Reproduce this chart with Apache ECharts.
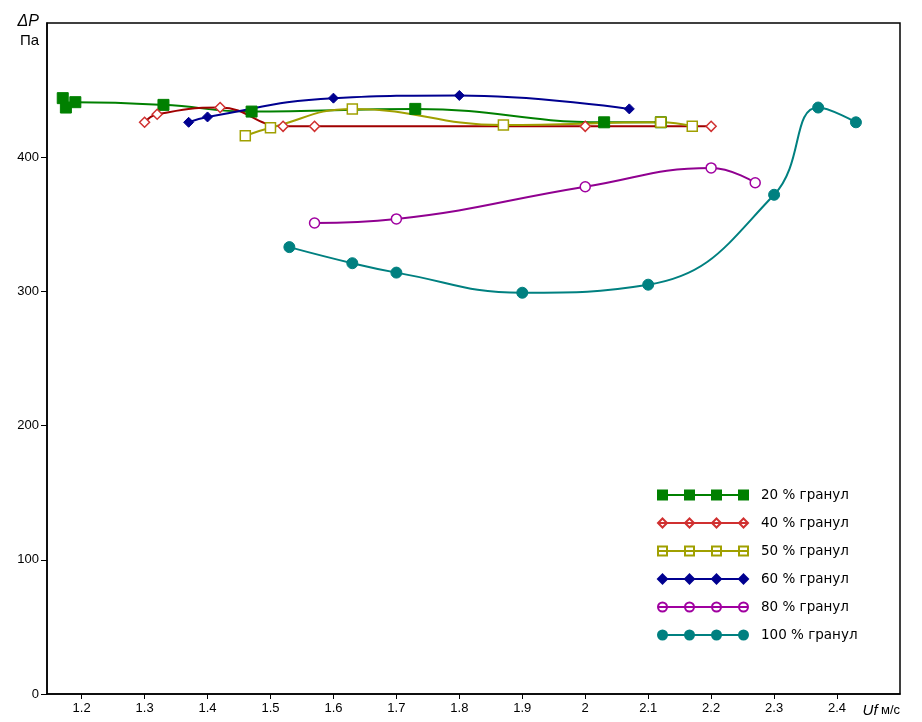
<!DOCTYPE html>
<html lang="ru">
<head>
    <meta charset="UTF-8">
    <title>ΔP от Uf</title>
    <script src="https://cdn.jsdelivr.net/npm/echarts@6/dist/echarts.min.js"></script>
    <style>
        body { padding: 0; margin: 0; background: #fff; }
        #chart { width: 922px; height: 722px; }
    </style>
</head>
<body>
    <div id="chart"></div>

    <script>
        // данные: Uf (м/с) и ΔP (Па)
        const names = ['20 % гранул', '40 % гранул', '50 % гранул', '60 % гранул', '80 % гранул', '100 % гранул'];

        const uf20 = [1.17, 1.175, 1.19, 1.33, 1.47, 1.73, 2.03, 2.12];
        const dp20 = [444, 437, 441, 439, 434, 436, 426, 426];

        const uf40 = [1.30, 1.32, 1.42, 1.52, 1.57, 2.00, 2.20];
        const dp40 = [426, 432, 437, 423, 423, 423, 423];

        const uf50 = [1.46, 1.50, 1.63, 1.87, 2.12, 2.17];
        const dp50 = [416, 422, 436, 424, 426, 423];

        const uf60 = [1.37, 1.40, 1.60, 1.80, 2.07];
        const dp60 = [426, 430, 444, 446, 436];

        const uf80 = [1.57, 1.70, 2.00, 2.20, 2.27];
        const dp80 = [351, 354, 378, 392, 381];

        const uf100 = [1.53, 1.63, 1.70, 1.90, 2.10, 2.30, 2.37, 2.43];
        const dp100 = [333, 321, 314, 299, 305, 372, 437, 426];

        const xTicks = [1.2, 1.3, 1.4, 1.5, 1.6, 1.7, 1.8, 1.9, 2.0, 2.1, 2.2, 2.3, 2.4];
        const yTicks = [0, 100, 200, 300, 400];

        const zip = (xs, ys) => xs.map((x, i) => [x, ys[i]]);
        const font = 'Liberation Sans, Arial, sans-serif';

        // значок легенды: линия и четыре маркера, как в оригинале
        const markX = [4.5, 31.5, 58.5, 85.5];
        function legendIcon(shape) {
            let d = 'M0 4.5 L90 4.5 ';
            markX.forEach(x => {
                if (shape === 'rect') d += `M${x - 4.5} 0 L${x + 4.5} 0 L${x + 4.5} 9 L${x - 4.5} 9 Z `;
                if (shape === 'diamond') d += `M${x} 0 L${x + 4.5} 4.5 L${x} 9 L${x - 4.5} 4.5 Z `;
                if (shape === 'circle') d += `M${x - 4.5} 4.5 A4.5 4.5 0 1 0 ${x + 4.5} 4.5 A4.5 4.5 0 1 0 ${x - 4.5} 4.5 Z `;
            });
            return 'path://' + d;
        }

        function makeSeries(name, xs, ys, lineColor, symbol, size, fill, border) {
            return {
                name: name,
                type: 'line',
                data: zip(xs, ys),
                smooth: 0.45,
                symbol: symbol,
                symbolSize: size,
                showAllSymbol: true,
                lineStyle: { color: lineColor, width: 2 },
                itemStyle: { color: fill, borderColor: border, borderWidth: fill === '#fff' ? 1.5 : 1 },
                emphasis: { disabled: true }
            };
        }

        const shapes = ['rect', 'diamond', 'rect', 'diamond', 'circle', 'circle'];

        const chart = echarts.init(document.getElementById('chart'));
        chart.setOption({
            animation: false,
            textStyle: { fontFamily: font },
            grid: {
                left: 47, right: 22, top: 23, bottom: 28,
                show: true, borderColor: '#000', borderWidth: 1.5,
                backgroundColor: '#fff'
            },
            legend: {
                orient: 'vertical',
                left: 652, top: 482,
                itemWidth: 90, itemHeight: 9, itemGap: 12,
                itemStyle: { borderWidth: 2 },
                textStyle: {
                    fontSize: 13.5, color: '#000', fontFamily: 'DejaVu Sans, sans-serif',
                    lineHeight: 16, padding: [0, 0, 0, 8]
                },
                data: names.map((n, i) => ({ name: n, icon: legendIcon(shapes[i]) }))
            },
            xAxis: {
                type: 'value',
                min: 1.145, max: 2.5,
                name: '{i|Uf} {n|м/с}',
                nameLocation: 'end',
                nameGap: 0,
                nameTextStyle: {
                    align: 'right', verticalAlign: 'top', padding: [9, 0, 0, 0],
                    rich: {
                        i: { fontSize: 15, fontStyle: 'italic', color: '#000', fontFamily: font },
                        n: { fontSize: 13, color: '#000', fontFamily: font }
                    }
                },
                axisLine: { lineStyle: { color: '#000', width: 1.5 } },
                axisTick: { length: 5, lineStyle: { color: '#000' }, customValues: xTicks },
                axisLabel: {
                    fontSize: 13, color: '#000', margin: 8, customValues: xTicks,
                    formatter: v => String(Math.round(v * 10) / 10)
                },
                splitLine: { show: false }
            },
            yAxis: {
                type: 'value',
                min: 0, max: 500, interval: 100,
                name: '{i|ΔP}\n{n|Па}',
                nameLocation: 'end',
                nameGap: 10,
                nameTextStyle: {
                    align: 'right', verticalAlign: 'top', padding: [0, 8, 0, 0],
                    rich: {
                        i: { fontSize: 16, fontStyle: 'italic', color: '#000', fontFamily: font, lineHeight: 18 },
                        n: { fontSize: 15, color: '#000', fontFamily: font, lineHeight: 20, align: 'right' }
                    }
                },
                axisLine: { show: true, lineStyle: { color: '#000', width: 1.5 } },
                axisTick: { show: true, length: 6, lineStyle: { color: '#000' }, customValues: yTicks },
                axisLabel: { fontSize: 13, color: '#000', margin: 8, customValues: yTicks },
                splitLine: { show: false }
            },
            series: [
                makeSeries(names[0], uf20, dp20, '#008000', 'rect', 11, '#008000', '#008000'),
                makeSeries(names[1], uf40, dp40, '#a00000', 'diamond', 10, '#fff', '#d03030'),
                makeSeries(names[2], uf50, dp50, '#a0a000', 'rect', 10, '#fff', '#a0a000'),
                makeSeries(names[3], uf60, dp60, '#000090', 'diamond', 10, '#000090', '#000090'),
                makeSeries(names[4], uf80, dp80, '#900090', 'circle', 10, '#fff', '#a000a0'),
                makeSeries(names[5], uf100, dp100, '#008080', 'circle', 11, '#008080', '#008080')
            ]
        });

        window.addEventListener('resize', function() {
            chart.resize();
        });
    </script>
</body>
</html>
